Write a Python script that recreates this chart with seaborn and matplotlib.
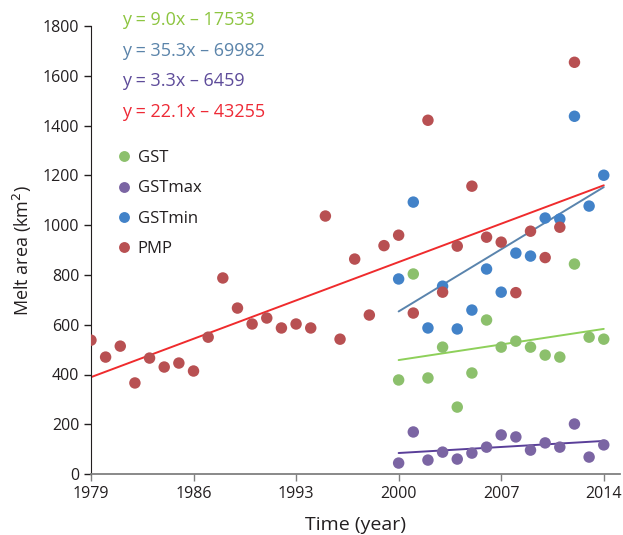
import numpy as np
import pandas as pd
import matplotlib
matplotlib.use("Agg")
import matplotlib.pyplot as plt
import seaborn as sns

# ---- data ----
pmp_years = list(range(1979, 2013))
pmp_vals = [538, 470, 514, 366, 466, 430, 446, 414, 550, 788,
            667, 603, 627, 587, 603, 587, 1037, 542, 864, 639,
            918, 960, 647, 1422, 731, 916, 1157, 952, 932, 729,
            976, 870, 992, 1655]

sat_years = list(range(2000, 2015))
gst_vals = [378, 804, 386, 510, 269, 406, 619, 510, 534, 510, 478, 470, 844, 550, 542]
gstmax_vals = [44, 169, 56, 88, 60, 84, 108, 157, 149, 96, 125, 108, 201, 68, 117]
gstmin_vals = [784, 1093, 587, 755, 583, 659, 824, 731, 888, 876, 1029, 1025, 1438, 1077, 1201]

series_names = ["GST", "GSTmax", "GSTmin", "PMP"]
equations = ["y = 9.0x – 17533", "y = 35.3x – 69982", "y = 3.3x – 6459", "y = 22.1x – 43255"]
x_ticks = [1979, 1986, 1993, 2000, 2007, 2014]
y_ticks = [0, 200, 400, 600, 800, 1000, 1200, 1400, 1600, 1800]

point_colors = {"GST": "#8cc06c", "GSTmax": "#7b65a3", "GSTmin": "#4282c8", "PMP": "#b85052"}
line_colors = {"GST": "#8ed05a", "GSTmax": "#5a3f99", "GSTmin": "#5a84ad", "PMP": "#ef2b2d"}
eq_colors = ["#8dc540", "#5b84aa", "#5e4c9a", "#ee2a36"]

frames = [
    pd.DataFrame({"year": sat_years, "area": gst_vals, "series": "GST"}),
    pd.DataFrame({"year": sat_years, "area": gstmax_vals, "series": "GSTmax"}),
    pd.DataFrame({"year": sat_years, "area": gstmin_vals, "series": "GSTmin"}),
    pd.DataFrame({"year": pmp_years, "area": pmp_vals, "series": "PMP"}),
]
df = pd.concat(frames, ignore_index=True)

sns.set_style("ticks")
plt.rcParams["font.family"] = ["Open Sans", "DejaVu Sans"]

fig = plt.figure(figsize=(6.23, 5.35), dpi=100)
ax = fig.add_axes([0.146, 0.114, 0.849, 0.837])

# PMP trend spans the full tick range (first to last tick year)
ax.set_xlim(x_ticks[0], x_ticks[-1])
sns.regplot(data=df[df["series"] == "PMP"], x="year", y="area", scatter=False, ci=None,
            truncate=False, color=line_colors["PMP"], line_kws={"lw": 1.4, "zorder": 2}, ax=ax)
for name in ["GSTmin", "GST", "GSTmax"]:
    sub = df[df["series"] == name]
    sns.regplot(data=sub, x="year", y="area", scatter=False, ci=None, truncate=True,
                color=line_colors[name], line_kws={"lw": 1.4, "zorder": 2}, ax=ax)

sns.scatterplot(data=df, x="year", y="area", hue="series", hue_order=series_names,
                palette=point_colors, s=68, edgecolor="none", linewidth=0, ax=ax, zorder=3)

ax.set_xlim(1979, 2015.1)
ax.set_ylim(0, 1800)
ax.set_xticks(x_ticks)
ax.set_yticks(y_ticks)
ax.tick_params(axis="both", labelsize=11.5, length=5, width=1, colors="#231f20")
ax.tick_params(axis="x", color="#808080")
for s in ["top", "right"]:
    ax.spines[s].set_visible(False)
ax.spines["left"].set_color("#231f20")
ax.spines["bottom"].set_color("#808080")
ax.spines["bottom"].set_linewidth(1.3)
ax.set_xlabel("Time (year)", fontsize=14, color="#231f20", labelpad=10)
ax.set_ylabel("Melt area (km$^2$)", fontsize=13, color="#231f20", labelpad=6)

leg = ax.legend(loc="upper left", bbox_to_anchor=(0.035, 0.738), frameon=False,
                fontsize=12, handlelength=1.0, handletextpad=0.3, labelspacing=0.85,
                borderaxespad=0, markerscale=0.95)
for t in leg.get_texts():
    t.set_color("#231f20")

for i, (eq, c) in enumerate(zip(equations, eq_colors)):
    fig.text(122 / 623, 1 - (20 + 30.7 * i) / 535, eq, color=c, fontsize=13,
             ha="left", va="center")

fig.savefig("out.png", dpi=100)
